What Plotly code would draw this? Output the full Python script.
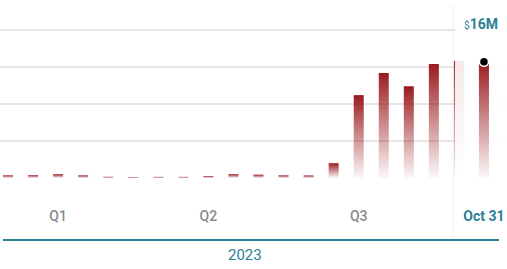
import plotly.graph_objects as go

# ---- data (semi-monthly periods, $M) ----
periods = ["Jan 15", "Jan 31", "Feb 15", "Feb 28", "Mar 15", "Mar 31",
           "Apr 15", "Apr 30", "May 15", "May 31", "Jun 15", "Jun 30",
           "Jul 15", "Jul 31", "Aug 15", "Aug 31", "Sep 15", "Sep 30",
           "Oct 15", "Oct 31"]
values = [0.36, 0.38, 0.52, 0.36, 0.16, 0.13, 0.15, 0.15, 0.25, 0.52,
          0.45, 0.36, 0.34, 2.0, 11.2, 14.2, 12.4, 15.4, 15.8, 15.7]
tick_periods = ["Feb 15", "May 15", "Aug 15"]
tick_labels = ["Q1", "Q2", "Q3"]
year_label = "2023"
value_label = "16M"

RED = "155,27,31"
TEAL = "#2b8096"
GREY = "#8a8a8a"

W, H = 507, 269
n = len(values)
xi = list(range(n))
hw = 0.2
y_top, y_bot = 23.51, -8.38
x_lo, x_hi = -0.32, 19.92

fig = go.Figure()

def add_bar(i, v):
    fig.add_trace(go.Scatter(
        x=[i - hw, i - hw, i + hw, i + hw], y=[0, v, v, 0],
        fill="toself", mode="lines", line=dict(width=0),
        fillgradient=dict(type="vertical",
                          colorscale=[[0, f"rgba({RED},0.03)"],
                                      [0.55, f"rgba({RED},0.55)"],
                                      [1, f"rgba({RED},1)"]]),
        hoverinfo="skip", showlegend=False))

for i in range(n - 1):
    add_bar(xi[i], values[i])

# highlight panel for the latest period
p0, p1 = xi[-1] - 1.16, xi[-1] + 1.5
fig.add_trace(go.Scatter(
    x=[p0 - 0.2, p0 - 0.2, p0, p0], y=[y_bot, y_top, y_top, y_bot],
    fill="toself", mode="lines", line=dict(width=0),
    fillgradient=dict(type="horizontal",
                      colorscale=[[0, "rgba(0,0,0,0)"], [1, "rgba(0,0,0,0.03)"]]),
    hoverinfo="skip", showlegend=False))
fig.add_trace(go.Scatter(
    x=[p0, p0, p1, p1], y=[y_bot, y_top, y_top, y_bot],
    fill="toself", mode="lines", line=dict(width=0),
    fillcolor="rgba(255,255,255,0.9)", hoverinfo="skip", showlegend=False))

add_bar(xi[-1], values[-1])

fig.add_trace(go.Scatter(
    x=[xi[-1]], y=[values[-1]], mode="markers",
    marker=dict(size=9, color="black", line=dict(color="white", width=1.5)),
    hoverinfo="skip", showlegend=False))

# axis carrying the period labels
tv = [periods.index(p) for p in tick_periods] + [xi[-1]]
tt = tick_labels + [f"<b><span style='color:{TEAL};font-size:14px'>{periods[-1]}</span></b>"]
fig.add_trace(go.Scatter(x=[xi[0]], y=[0], xaxis="x2", mode="markers",
                         marker=dict(opacity=0), hoverinfo="skip", showlegend=False))

fig.update_layout(
    width=W, height=H,
    margin=dict(l=0, r=0, t=4, b=29),
    paper_bgcolor="white", plot_bgcolor="white",
    font=dict(family="Roboto", color=GREY),
    xaxis=dict(range=[x_lo, x_hi], showgrid=False, zeroline=False,
               showticklabels=False, showline=False, fixedrange=True),
    xaxis2=dict(range=[x_lo, x_hi], overlaying="x", anchor="free",
                position=(240 - 206) / 236, side="bottom",
                showgrid=False, zeroline=False, showline=False, ticks="",
                tickvals=tv, ticktext=tt,
                tickfont=dict(family="Roboto", size=14, color=GREY, weight=500)),
    yaxis=dict(range=[y_bot, y_top], tickvals=[5, 10, 15, 20],
               showticklabels=False, gridcolor="#e6e6e6", gridwidth=2,
               zeroline=False, showline=False, fixedrange=True),
    shapes=[dict(type="line", xref="paper", yref="paper",
                 x0=3 / W, x1=499 / W, y0=0, y1=0,
                 line=dict(color=TEAL, width=2))],
    annotations=[
        dict(xref="paper", yref="paper", x=245 / W, y=-15 / 236,
             text=year_label, showarrow=False, yanchor="middle",
             font=dict(family="Roboto", size=15, color=TEAL)),
        dict(xref="x", yref="paper", x=xi[-1], xshift=-2.5,
             y=(240 - 24.5) / 236, yanchor="middle",
             text=f"<span style='font-size:10px'>$</span><b>{value_label}</b>",
             showarrow=False, font=dict(family="Roboto", size=14, color=TEAL)),
    ],
)

fig.write_html("out.html")
